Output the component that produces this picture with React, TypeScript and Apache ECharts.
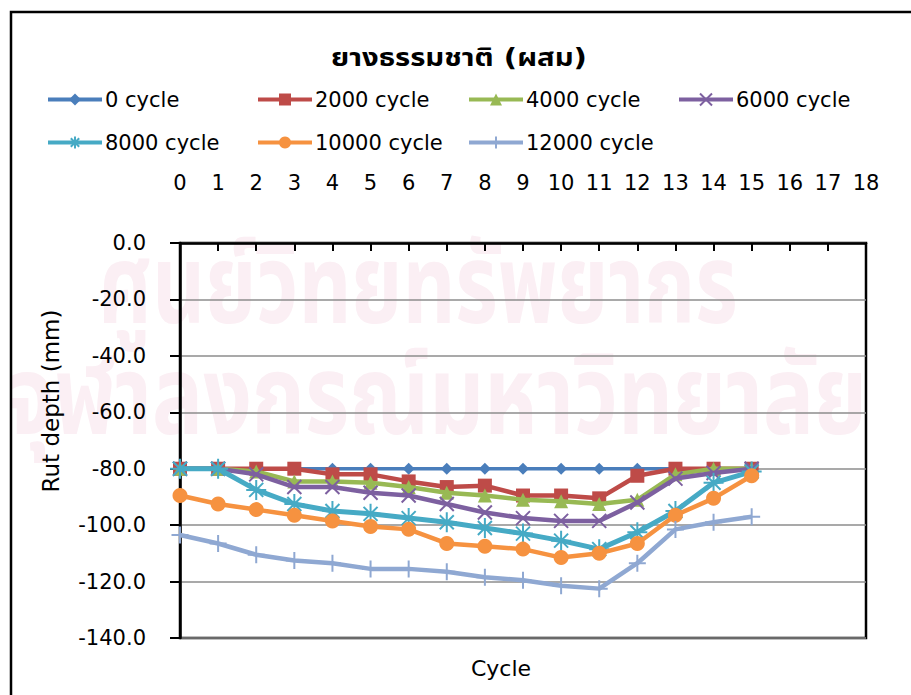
import React, { useEffect, useRef } from "react";
import * as echarts from "echarts";

const xTicks = [0, 1, 2, 3, 4, 5, 6, 7, 8, 9, 10, 11, 12, 13, 14, 15, 16, 17, 18];
const positions = [0, 1, 2, 3, 4, 5, 6, 7, 8, 9, 10, 11, 12, 13, 14, 15];
const seriesNames = ["0 cycle", "2000 cycle", "4000 cycle", "6000 cycle", "8000 cycle", "10000 cycle", "12000 cycle"];
const cycle0 = [-80, -80, -80, -80, -80, -80, -80, -80, -80, -80, -80, -80, -80, -80, -80, -80];
const cycle2000 = [-80, -80, -80, -80, -82, -82, -84.5, -86.5, -86, -89.5, -89.5, -90.5, -82.5, -80, -80, -80];
const cycle4000 = [-80, -80, -81, -84.5, -84.5, -85, -86.5, -88.5, -89.5, -91, -91.5, -92.5, -91, -82, -80, -80];
const cycle6000 = [-80, -80, -82, -86.5, -86.5, -88.5, -89.5, -92.5, -95.5, -97.5, -98.5, -98.5, -92, -83.5, -81.5, -80];
const cycle8000 = [-80, -80, -87.5, -92.5, -95, -96, -97.5, -99, -101, -103, -105.5, -108.5, -102.5, -95, -85, -81];
const cycle10000 = [-89.5, -92.5, -94.5, -96.5, -98.5, -100.5, -101.5, -106.5, -107.5, -108.5, -111.5, -110, -106.5, -96.5, -90.5, -82.5];
const cycle12000 = [-103.5, -106.5, -110.5, -112.5, -113.5, -115.5, -115.5, -116.5, -118.5, -119.5, -121.5, -122.5, -113.5, -101.5, -99, -97];
const yTicks = [0, -20, -40, -60, -80, -100, -120, -140];
const titleText = "ยางธรรมชาติ (ผสม)";
const watermark1 = "ศูนย์วิทยทรัพยากร";
const watermark2 = "จุฬาลงกรณ์มหาวิทยาลัย";

const allValues = [cycle0, cycle2000, cycle4000, cycle6000, cycle8000, cycle10000, cycle12000];
const colors = ["#4A7EBB", "#BE4B48", "#98B954", "#7D60A0", "#46AAC5", "#F69240", "#8FA8D2"];
const symbols = [
  "diamond",
  "rect",
  "triangle",
  "path://M0,0L10,10M10,0L0,10",
  "path://M0,5L10,5M5,0L5,10M1.5,1.5L8.5,8.5M8.5,1.5L1.5,8.5",
  "circle",
  "path://M5,0L5,10M0,5L10,5",
];
const symbolSizes = [12, 14, 14, 14, 20, 15, 17];
const lineWidths = [3.5, 4.5, 4.5, 4.5, 5, 4.5, 4.5];
const strokeSymbol = [false, false, false, true, true, false, true];
const legendLeft = [46, 256, 467, 677, 46, 256, 467];
const legendTop = [89, 89, 89, 89, 132, 132, 132];

const FONT = "'DejaVu Sans', 'Noto Sans Thai', 'Noto Sans', sans-serif";
const WM_FONT = "'Noto Sans Thai', 'Noto Sans', sans-serif";

function measure(text: string, font: string): number {
  const c = document.createElement("canvas");
  const ctx = c.getContext("2d")!;
  ctx.font = font;
  return ctx.measureText(text).width || 1;
}

export default function App() {
  const ref = useRef<HTMLDivElement>(null);
  useEffect(() => {
    document.body.style.margin = "0";
    const chart = echarts.init(ref.current!, null, { renderer: "svg" });
    const series = allValues.map((vals, i) => ({
      name: seriesNames[i],
      type: "line",
      data: vals.map((v, k) => [positions[k], v]),
      symbol: symbols[i],
      symbolSize: symbolSizes[i],
      lineStyle: { color: colors[i], width: lineWidths[i] },
      itemStyle: strokeSymbol[i]
        ? { color: colors[i], borderColor: colors[i], borderWidth: 2 }
        : { color: colors[i], borderWidth: 0 },
      z: 3 + i,
    }));
    const legends = seriesNames.map((n, i) => ({
      data: [n],
      left: legendLeft[i],
      top: legendTop[i],
      itemWidth: 54,
      itemHeight: 15,
      itemGap: 0,
      padding: 0,
      lineStyle: { width: 4 },
      textStyle: { fontSize: 21, color: "#000", fontFamily: FONT, padding: [0, 0, 0, -2] },
    }));
    const wmSize = 110;
    const wmW1 = measure(watermark1, `bold ${wmSize}px ${WM_FONT}`);
    const wmW2 = measure(watermark2, `bold ${wmSize}px ${WM_FONT}`);
    const titleSize = 24;
    const titleW = measure(titleText, `bold ${titleSize}px ${FONT}`);
    chart.setOption({
      animation: false,
      backgroundColor: "#fff",
      legend: legends,
      grid: {
        left: 180,
        top: 243,
        right: 45,
        bottom: 57,
        show: true,
        borderColor: "#000",
        borderWidth: 2.5,
        backgroundColor: "transparent",
      },
      xAxis: {
        type: "value",
        position: "top",
        min: xTicks[0],
        max: xTicks[xTicks.length - 1],
        interval: 1,
        axisLine: { show: true, lineStyle: { color: "#000", width: 2.5 } },
        axisTick: { show: true, inside: true, length: 8, lineStyle: { color: "#000", width: 2 } },
        axisLabel: { fontSize: 21, color: "#000", margin: 50, fontFamily: FONT },
        splitLine: { show: false },
      },
      yAxis: {
        type: "value",
        min: yTicks[yTicks.length - 1],
        max: yTicks[0],
        interval: 20,
        axisLine: { show: true, lineStyle: { color: "#000", width: 2.5 } },
        axisTick: { show: true, inside: false, length: 10, lineStyle: { color: "#000", width: 2 } },
        axisLabel: {
          fontSize: 21,
          color: "#000",
          margin: 34,
          fontFamily: FONT,
          formatter: (v: number) => v.toFixed(1),
        },
        splitLine: { show: true, lineStyle: { color: "#8c8c8c", width: 1.5 } },
      },
      graphic: [
        {
          type: "text",
          x: 418,
          y: 290,
          scaleX: 640 / wmW1,
          z: -10,
          silent: true,
          style: {
            text: watermark1,
            fontSize: wmSize,
            fontWeight: "bold",
            fontFamily: WM_FONT,
            fill: "#FBEFF4",
            align: "center",
            verticalAlign: "middle",
          },
        },
        {
          type: "text",
          x: 437,
          y: 400,
          scaleX: 860 / wmW2,
          z: -10,
          silent: true,
          style: {
            text: watermark2,
            fontSize: wmSize,
            fontWeight: "bold",
            fontFamily: WM_FONT,
            fill: "#FBEFF4",
            align: "center",
            verticalAlign: "middle",
          },
        },
        {
          type: "text",
          x: 459,
          y: 57,
          scaleX: Math.min(1.3, 256 / titleW),
          style: {
            text: titleText,
            fontSize: titleSize,
            fontWeight: "bold",
            fontFamily: FONT,
            fill: "#000",
            align: "center",
            verticalAlign: "middle",
          },
        },
        {
          type: "rect",
          shape: { x: 11, y: 12, width: 920, height: 700 },
          style: { fill: "none", stroke: "#000", lineWidth: 2.5 },
          z: 100,
        },
        {
          type: "text",
          x: 51,
          y: 401,
          rotation: Math.PI / 2,
          style: {
            text: "Rut depth (mm)",
            fontSize: 23,
            fontFamily: FONT,
            fill: "#000",
            align: "center",
            verticalAlign: "middle",
          },
        },
        {
          type: "text",
          x: 501,
          y: 668,
          style: {
            text: "Cycle",
            fontSize: 22,
            fontFamily: FONT,
            fill: "#000",
            align: "center",
            verticalAlign: "middle",
          },
        },
      ],
      series,
    });
    return () => chart.dispose();
  }, []);
  return <div ref={ref} style={{ position: "absolute", left: 0, top: 0, width: 911, height: 695 }} />;
}
